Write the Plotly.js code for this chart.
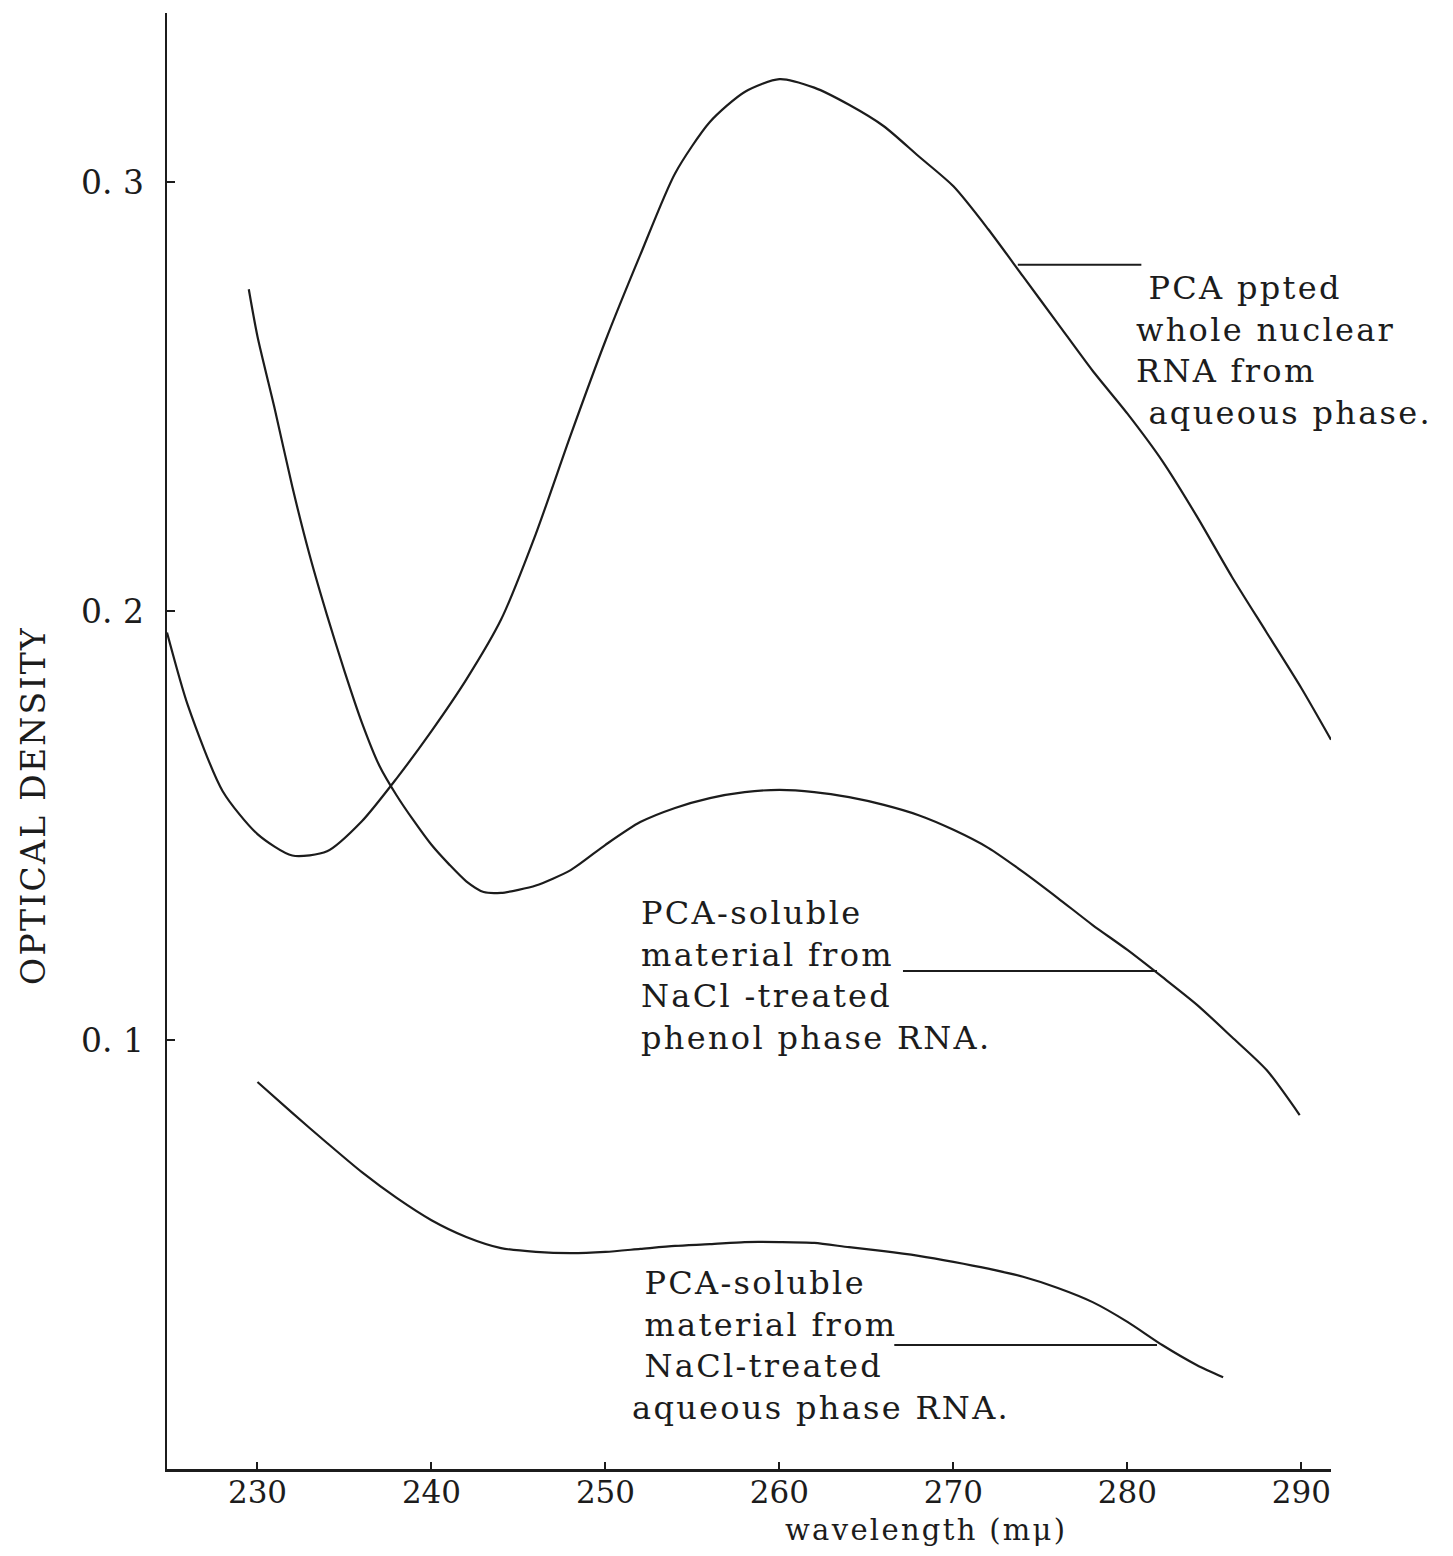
<!DOCTYPE html>
<html>
<head>
<meta charset="utf-8">
<script src="https://cdn.plot.ly/plotly-3.0.1.min.js"></script>
<style>
  html, body { margin: 0; padding: 0; background: #fff; }
  #chart { width: 1453px; height: 1556px; }
  .annotation-text { letter-spacing: 2.3px; }
</style>
</head>
<body>
<div id="chart"></div>
<script>
// Absorption spectra (optical density vs wavelength, mμ)

// PCA precipitated whole nuclear RNA from aqueous phase
const wavelengthPpted = [224.8, 226, 228, 230, 232, 234, 236, 238, 240, 242, 244, 246, 248, 250, 252, 254, 256, 258, 260, 262, 264, 266, 268, 270, 272, 274, 276, 278, 280, 282, 284, 286, 288, 290, 291.7];
const odPpted = [0.195, 0.178, 0.158, 0.148, 0.143, 0.144, 0.151, 0.161, 0.172, 0.184, 0.198, 0.218, 0.241, 0.263, 0.283, 0.302, 0.314, 0.321, 0.324, 0.322, 0.318, 0.313, 0.306, 0.299, 0.289, 0.278, 0.267, 0.256, 0.246, 0.235, 0.222, 0.208, 0.195, 0.182, 0.170];

// PCA-soluble material from NaCl-treated phenol phase RNA
const wavelengthPhenol = [229.5, 230, 231, 232, 233, 234, 235, 236, 237, 238, 239, 240, 241, 242, 243, 244, 245, 246, 248, 250, 252, 254, 256, 258, 260, 262, 264, 266, 268, 270, 272, 274, 276, 278, 280, 282, 284, 286, 288, 289.9];
const odPhenol = [0.275, 0.264, 0.247, 0.229, 0.213, 0.199, 0.186, 0.174, 0.164, 0.157, 0.151, 0.1455, 0.141, 0.137, 0.1345, 0.1343, 0.135, 0.136, 0.1396, 0.1455, 0.1508, 0.1541, 0.1564, 0.1578, 0.1583, 0.1578, 0.1566, 0.1548, 0.1524, 0.149, 0.1448, 0.1392, 0.1331, 0.1268, 0.121, 0.1147, 0.1082, 0.1007, 0.093, 0.0825];

// PCA-soluble material from NaCl-treated aqueous phase RNA
const wavelengthAqueous = [230, 232, 234, 236, 238, 240, 242, 244, 246, 248, 250, 252, 254, 256, 258, 260, 262, 264, 266, 268, 270, 272, 274, 276, 278, 280, 282, 284, 285.5];
const odAqueous = [0.0902, 0.083, 0.076, 0.0692, 0.0632, 0.058, 0.0541, 0.0515, 0.0506, 0.0503, 0.0506, 0.0513, 0.052, 0.0524, 0.0529, 0.0529, 0.0527, 0.0517, 0.0508, 0.0497, 0.0483, 0.0467, 0.0448, 0.0422, 0.0389, 0.0343, 0.0289, 0.0242, 0.0214];

// Axis ticks
const xTickValues = [230, 240, 250, 260, 270, 280, 290];
const xTickLabels = ['230', '240', '250', '260', '270', '280', '290'];
const yTickValues = [0.1, 0.2, 0.3];
const yTickLabels = ['0. 1', '0. 2', '0. 3'];

// Curve labels and their leader lines (leader: [x start, x end, y])
const curveLabels = [
  { text: '\u00a0PCA ppted<br>whole nuclear<br>RNA from<br>\u00a0aqueous phase.', x: 280.4, y: 0.2801, leader: [273.7, 280.8, 0.2807] },
  { text: 'PCA-soluble<br>material from<br>NaCl -treated<br>phenol phase RNA.', x: 251.9, y: 0.1346, leader: [267.1, 281.7, 0.1161] },
  { text: '\u00a0PCA-soluble<br>\u00a0material from<br>\u00a0NaCl-treated<br>aqueous phase RNA.', x: 251.4, y: 0.0482, leader: [266.6, 281.7, 0.0289] }
];

const ink = '#1c1c1c';
const serif = 'DejaVu Serif, Liberation Serif, serif';

const lineStyle = { color: ink, width: 2.2, shape: 'spline', smoothing: 0.7 };

const traces = [
  { x: wavelengthPpted, y: odPpted, mode: 'lines', line: lineStyle, name: 'PCA ppted whole nuclear RNA' },
  { x: wavelengthPhenol, y: odPhenol, mode: 'lines', line: lineStyle, name: 'PCA-soluble, phenol phase' },
  { x: wavelengthAqueous, y: odAqueous, mode: 'lines', line: lineStyle, name: 'PCA-soluble, aqueous phase' }
];

const annotations = curveLabels.map(l => ({
  text: l.text, x: l.x, y: l.y, xref: 'x', yref: 'y',
  xanchor: 'left', yanchor: 'top', align: 'left', showarrow: false,
  font: { family: serif, size: 32, color: ink }
}));

annotations.push({
  text: 'OPTICAL DENSITY', xref: 'paper', yref: 'paper', x: -0.1152, y: 0.456,
  xanchor: 'center', yanchor: 'middle', textangle: -90, showarrow: false,
  font: { family: serif, size: 33, color: ink }
});
annotations.push({
  text: 'wavelength (mμ)', xref: 'paper', yref: 'paper', x: 0.652, y: -0.042,
  xanchor: 'center', yanchor: 'middle', showarrow: false,
  font: { family: serif, size: 29, color: ink }
});

const shapes = curveLabels.map(l => ({
  type: 'line', xref: 'x', yref: 'y',
  x0: l.leader[0], x1: l.leader[1], y0: l.leader[2], y1: l.leader[2],
  line: { color: ink, width: 2 }
}));

const layout = {
  width: 1453, height: 1556,
  margin: { l: 167, r: 122, t: 13, b: 87 },
  paper_bgcolor: '#ffffff', plot_bgcolor: '#ffffff',
  showlegend: false,
  xaxis: {
    range: [224.8, 291.7], showgrid: false, zeroline: false,
    showline: true, linecolor: ink, linewidth: 2.5,
    tickmode: 'array', tickvals: xTickValues, ticktext: xTickLabels,
    ticks: 'inside', ticklen: 7, tickwidth: 2, tickcolor: ink,
    ticklabelstandoff: -6,
    tickfont: { family: serif, size: 31, color: ink }
  },
  yaxis: {
    range: [0, 0.3394], showgrid: false, zeroline: false,
    showline: true, linecolor: ink, linewidth: 2.5,
    tickmode: 'array', tickvals: yTickValues, ticktext: yTickLabels,
    ticks: 'inside', ticklen: 8, tickwidth: 2, tickcolor: ink,
    ticklabelstandoff: 14,
    tickfont: { family: serif, size: 33, color: ink }
  },
  annotations: annotations,
  shapes: shapes
};

Plotly.newPlot('chart', traces, layout, { displayModeBar: false, staticPlot: true });
</script>
</body>
</html>
